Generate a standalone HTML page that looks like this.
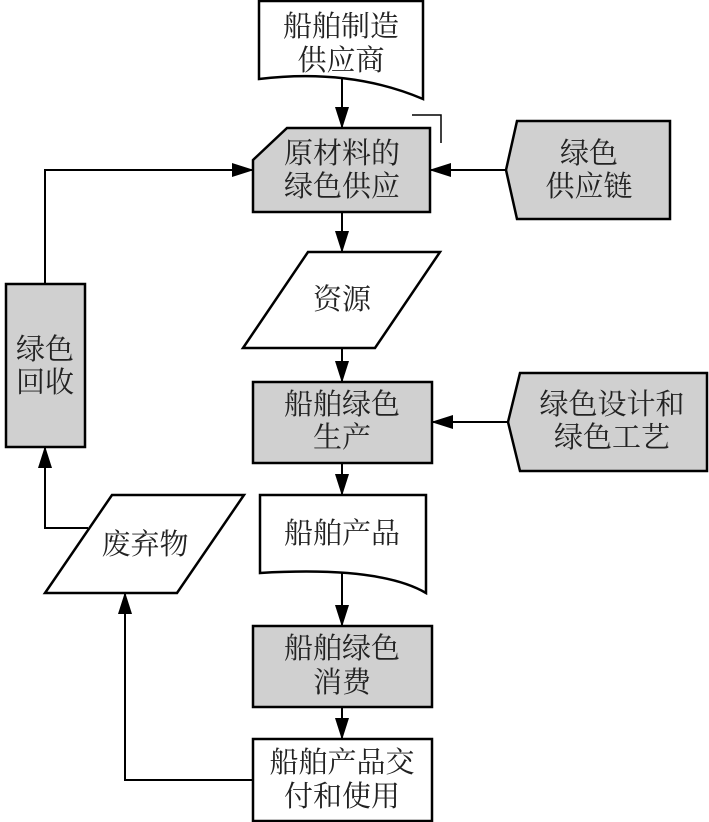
<!DOCTYPE html>
<html><head><meta charset="utf-8"><style>
html,body{margin:0;padding:0;background:#fff;}
svg{display:block;}
text{font-family:"Liberation Serif","Noto Serif CJK SC",serif;font-size:29px;fill:#222;text-anchor:middle;}
</style></head><body>
<svg width="709" height="822" viewBox="0 0 709 822" xmlns="http://www.w3.org/2000/svg">
<defs>
<marker id="b" markerWidth="22" markerHeight="14" refX="21" refY="7" orient="auto" markerUnits="userSpaceOnUse"><path d="M0,0 L22,7 L0,14 z" fill="#000"/></marker></defs>
<g stroke="#000" stroke-width="2.5" fill="none">
<path d="M259,1 L423,1 L423,99 Q350,68 259,79 Z" fill="#fff"/>
<path d="M253,160 L287,128 L430,128 L430,212 L253,212 Z" fill="#d0d0d0"/>
<path d="M412,115 L441,115 L441,143" stroke-width="1.5"/>
<path d="M506,170 L517,121 L670,121 L670,219 L517,219 Z" fill="#d0d0d0"/>
<path d="M308,252 L440,252 L375,348 L243,348 Z" fill="#fff"/>
<rect x="253" y="382" width="179" height="81" fill="#d0d0d0"/>
<path d="M508,422 L520,373 L707,373 L707,471 L520,471 Z" fill="#d0d0d0"/>
<path d="M260,495 L426,495 L426,593 Q380,566 260,573 Z" fill="#fff"/>
<rect x="253" y="626" width="179" height="81" fill="#d0d0d0"/>
<rect x="253" y="739" width="179" height="82" fill="#fff"/>
<path d="M112,495 L244,495 L177,593 L45,593 Z" fill="#fff"/>
<rect x="6" y="284" width="79" height="163" fill="#d0d0d0"/>
</g>
<g stroke="#000" stroke-width="2" fill="none">
<path d="M342,79 L342,128" marker-end="url(#b)"/>
<path d="M506,170 L430,170" marker-end="url(#b)"/>
<path d="M342,212 L342,252" marker-end="url(#b)"/>
<path d="M342,348 L342,382" marker-end="url(#b)"/>
<path d="M508,422 L432,422" marker-end="url(#b)"/>
<path d="M342,463 L342,495" marker-end="url(#b)"/>
<path d="M342,573 L342,626" marker-end="url(#b)"/>
<path d="M342,707 L342,739" marker-end="url(#b)"/>
<path d="M253,780 L125,780 L125,593" marker-end="url(#b)"/>
<path d="M88,528 L45,528 L45,447" marker-end="url(#b)"/>
<path d="M45,284 L45,170 L253,170" marker-end="url(#b)"/>
</g>
<text x="341" y="36">船舶制造</text><text x="341" y="70">供应商</text>
<text x="342" y="163">原材料的</text><text x="342" y="196">绿色供应</text>
<text x="589" y="163">绿色</text><text x="589" y="196">供应链</text>
<text x="342" y="309">资源</text>
<text x="342" y="414">船舶绿色</text><text x="342" y="447">生产</text>
<text x="612" y="414">绿色设计和</text><text x="612" y="447">绿色工艺</text>
<text x="342" y="543">船舶产品</text>
<text x="145" y="554">废弃物</text>
<text x="45" y="359">绿色</text><text x="45" y="392">回收</text>
<text x="342" y="658">船舶绿色</text><text x="342" y="692">消费</text>
<text x="342" y="772">船舶产品交</text><text x="342" y="806">付和使用</text>
</svg>
</body></html>
